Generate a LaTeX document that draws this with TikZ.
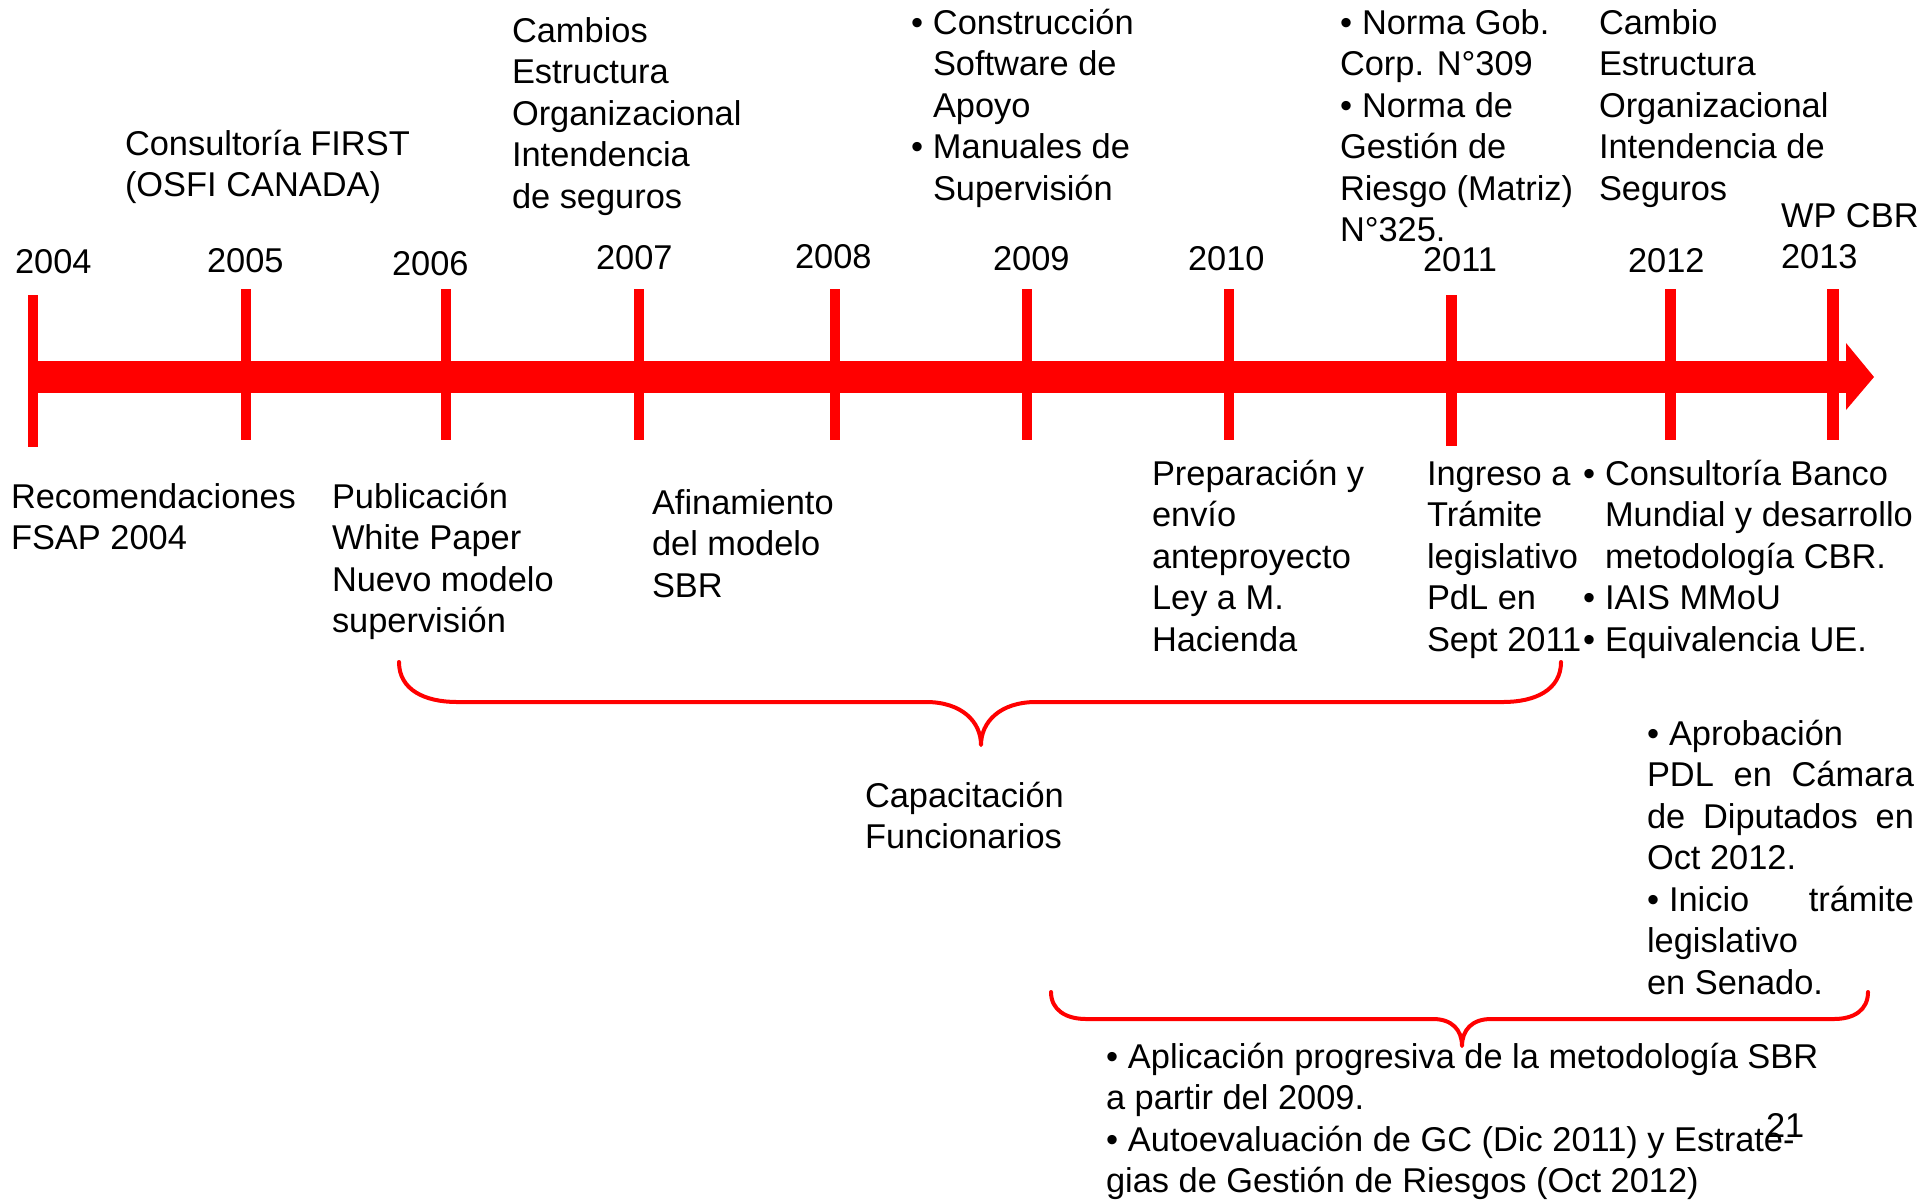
\documentclass[tikz,border=0pt]{standalone}
\usepackage{fontspec}
\setmainfont{Liberation Sans}
\newcommand{\mlines}[1]{\vtop{\baselineskip=20.75pt\lineskiplimit=-100pt\lineskip=0pt\halign{##\hfil\cr#1\crcr}}}
\newcommand{\bul}{\makebox[11pt][l]{•}}
\newcommand{\hng}{\hbox to 11pt{}}
\tikzset{
  txt/.style={anchor=base west, inner sep=0pt, outer sep=0pt, font=\fontsize{17.2}{20.75}\selectfont},
  tickbar/.style={fill=red, draw=none},
  bracepath/.style={draw=red, line width=2pt, line cap=round, line join=round}
}
\begin{document}
\begin{tikzpicture}[x=0.5pt,y=-0.5pt]
\useasboundingbox (0,0) rectangle (1920,1199);
\fill[white] (0,0) rectangle (1920,1199);
% main bar and arrow head
\fill[tickbar] (28,361) rectangle (1848,393);
\fill[tickbar] (1846,343) -- (1874,377) -- (1846,410) -- cycle;
% ticks
\fill[tickbar] (28,295) rectangle (38,447);
\fill[tickbar] (241,289) rectangle (251,440);
\fill[tickbar] (441,289) rectangle (451,440);
\fill[tickbar] (634,289) rectangle (644,440);
\fill[tickbar] (830,289) rectangle (840,440);
\fill[tickbar] (1022,289) rectangle (1032,440);
\fill[tickbar] (1224,289) rectangle (1234,440);
\fill[tickbar] (1446,295) rectangle (1457,446);
\fill[tickbar] (1665,289) rectangle (1676,440);
\fill[tickbar] (1827,289) rectangle (1839,440);
% year labels
\node[txt] (y2004) at (15,273) {2004};
\node[txt] (y2005) at (207,272) {2005};
\node[txt] (y2006) at (392,275) {2006};
\node[txt] (y2007) at (596,269) {2007};
\node[txt] (y2008) at (795,268) {2008};
\node[txt] (y2009) at (993,270) {2009};
\node[txt] (y2010) at (1188,270) {2010};
\node[txt] (y2011) at (1423,271) {2011};
\node[txt] (y2012) at (1628,272) {2012};
\node[txt] (wp) at (1781,227) {\mlines{WP CBR\cr 2013}};
% top texts
\node[txt] (consult) at (125,155) {\mlines{Consultoría FIRST\cr (OSFI CANADA)}};
\node[txt] (cambios) at (512,42) {\mlines{Cambios\cr Estructura\cr Organizacional\cr Intendencia\cr de seguros}};
\node[txt] (constr) at (911,34) {\mlines{\bul Construcción\cr \hng Software de\cr \hng Apoyo\cr \bul Manuales de\cr \hng Supervisión}};
\node[txt] (norma) at (1340,34) {\mlines{\bul Norma Gob.\cr Corp. N°309\cr \bul Norma de\cr Gestión de\cr Riesgo (Matriz)\cr N°325.}};
\node[txt] (cambio) at (1599,34) {\mlines{Cambio\cr Estructura\cr Organizacional\cr Intendencia de\cr Seguros}};
% bottom texts
\node[txt] (recom) at (11,508) {\mlines{Recomendaciones\cr FSAP 2004}};
\node[txt] (public) at (332,508) {\mlines{Publicación\cr White Paper\cr Nuevo modelo\cr supervisión}};
\node[txt] (afin) at (652,514) {\mlines{Afinamiento\cr del modelo\cr SBR}};
\node[txt] (prep) at (1152,485) {\mlines{Preparación y\cr envío\cr anteproyecto\cr Ley a M.\cr Hacienda}};
\node[txt] (ingreso) at (1427,485) {\mlines{Ingreso a\cr Trámite\cr legislativo\cr PdL en\cr Sept 2011}};
\node[txt] (banco) at (1583,485) {\mlines{\bul Consultoría Banco\cr \hng Mundial y desarrollo\cr \hng metodología CBR.\cr \bul IAIS MMoU\cr \bul Equivalencia UE.}};
\node[txt] (capac) at (865,807) {\mlines{Capacitación\cr Funcionarios}};
\node[txt] (aprob) at (1647,745) {\mlines{\bul Aprobación\cr \hbox to 133.5pt{PDL\hfill en\hfill Cámara}\cr \hbox to 133.5pt{de\hfill Diputados\hfill en}\cr Oct 2012.\cr \hbox to 133.5pt{\bul Inicio\hfill trámite}\cr legislativo\cr en Senado.}};
\node[txt] (aplic) at (1106,1068) {\mlines{\bul Aplicación progresiva de la metodología SBR\cr a partir del 2009.\cr \bul Autoevaluación de GC (Dic 2011) y Estrate-\cr gias de Gestión de Riesgos (Oct 2012)}};
\node[txt] (pg) at (1766,1137) {21};
% braces
\draw[bracepath] (399,662) .. controls (399,690) and (425,702) .. (457,702) -- (926,702)
  .. controls (962,702) and (981,722) .. (981,745)
  .. controls (981,722) and (1000,702) .. (1036,702) -- (1503,702)
  .. controls (1535,702) and (1561,690) .. (1561,662);
\draw[bracepath] (1051,992) .. controls (1051,1010) and (1066,1019) .. (1086,1019) -- (1433,1019)
  .. controls (1452,1019) and (1462,1030) .. (1462,1046)
  .. controls (1462,1030) and (1472,1019) .. (1491,1019) -- (1834,1019)
  .. controls (1854,1019) and (1868,1010) .. (1868,992);
\end{tikzpicture}
\end{document}
